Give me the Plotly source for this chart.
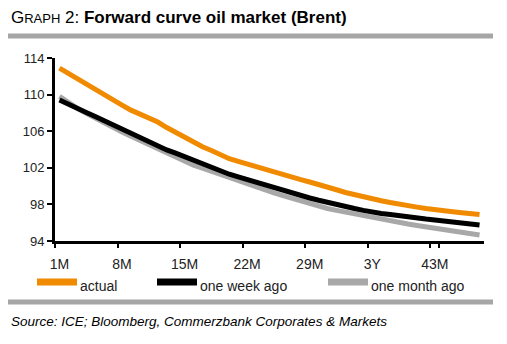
import plotly.graph_objects as go

# Contract months along the forward curve (36 months is shown as "3Y")
months = [f"{m}M" if m != 36 else "3Y" for m in range(1, 49)]
tick_labels = ["1M", "8M", "15M", "22M", "29M", "3Y", "43M"]

# Brent forward curve, USD per barrel
actual = [112.9, 112.3, 111.7, 111.1, 110.6, 110.0, 109.4, 108.85, 108.3, 107.85,
          107.4, 107.0, 106.4, 105.85, 105.3, 104.8, 104.3, 103.9, 103.4, 103.0,
          102.7, 102.4, 102.1, 101.8, 101.5, 101.2, 100.9, 100.7, 100.45, 100.2,
          99.95, 99.6, 99.3, 99.05, 98.85, 98.6, 98.4, 98.2, 98.0, 97.85,
          97.7, 97.55, 97.4, 97.3, 97.2, 97.1, 97.0, 96.9]
one_week_ago = [109.4, 108.9, 108.45, 108.05, 107.6, 107.15, 106.7, 106.3, 105.8, 105.3,
                104.8, 104.35, 103.95, 103.6, 103.2, 102.85, 102.5, 102.1, 101.7, 101.3,
                101.0, 100.7, 100.4, 100.1, 99.8, 99.5, 99.2, 98.95, 98.7, 98.45,
                98.2, 97.95, 97.75, 97.55, 97.35, 97.15, 97.0, 96.9, 96.75, 96.65,
                96.5, 96.4, 96.3, 96.2, 96.05, 95.95, 95.85, 95.75]
one_month_ago = [109.8, 109.1, 108.5, 107.95, 107.4, 106.9, 106.4, 105.9, 105.45, 105.0,
                 104.55, 104.1, 103.6, 103.15, 102.7, 102.3, 101.95, 101.6, 101.25, 100.95,
                 100.6, 100.25, 99.9, 99.55, 99.25, 98.95, 98.65, 98.35, 98.05, 97.8,
                 97.55, 97.35, 97.15, 96.95, 96.75, 96.55, 96.35, 96.2, 96.0, 95.85,
                 95.7, 95.55, 95.4, 95.25, 95.1, 94.95, 94.8, 94.65]

series_names = ["actual", "one week ago", "one month ago"]
series_colors = ["#F08A00", "#000000", "#A8A8A8"]
series_values = [actual, one_week_ago, one_month_ago]

W, H = 507, 344
FONT = "Liberation Sans, Arial, sans-serif"
PW, PH = 429, 183  # plot area size in pixels


def px_x(x):
    return (x - 55) / PW


def px_y(y):
    return (241 - y) / PH


fig = go.Figure()
# draw the oldest curve first so the current one sits on top
for name, color, vals in reversed(list(zip(series_names, series_colors, series_values))):
    fig.add_trace(go.Scatter(
        x=months, y=vals, mode="lines", name=name,
        line=dict(color=color, width=5, shape="linear"),
        showlegend=False, hoverinfo="x+y+name",
    ))

fig.update_layout(
    width=W, height=H,
    margin=dict(l=55, r=23, t=58, b=103),
    paper_bgcolor="white", plot_bgcolor="white",
    font=dict(family=FONT, size=13, color="#222222"),
    xaxis=dict(
        type="category", range=[-0.5, 47.5],
        tickmode="array", tickvals=tick_labels, ticktext=tick_labels, tickangle=0,
        tickson="boundaries", ticks="outside", ticklen=4, tickwidth=2, tickcolor="black",
        ticklabelstandoff=8,
        showline=True, linecolor="black", linewidth=3,
        showgrid=False, zeroline=False,
        tickfont=dict(size=14, color="#222222"),
    ),
    yaxis=dict(
        range=[94, 114], tickmode="array", tickvals=[94, 98, 102, 106, 110, 114],
        ticks="outside", ticklen=5, tickwidth=2, tickcolor="black",
        showline=True, linecolor="black", linewidth=3,
        showgrid=False, zeroline=False,
        tickfont=dict(size=13, color="#222222"),
    ),
)

# Header, rules and source note
fig.add_annotation(
    xref="paper", yref="paper", x=px_x(9), y=px_y(18),
    xanchor="left", yanchor="middle", showarrow=False,
    text=("<span style='font-size:17px'>G</span><span style='font-size:13px'>RAPH</span>"
          "<span style='font-size:17px'> 2: <b>Forward curve oil market (Brent)</b></span>"),
    font=dict(family=FONT, color="black"),
)
for y_px in (36, 302):
    fig.add_shape(type="line", xref="paper", yref="paper",
                  x0=px_x(8), x1=px_x(493), y0=px_y(y_px), y1=px_y(y_px),
                  line=dict(color="#A6A6A6", width=5))
fig.add_annotation(
    xref="paper", yref="paper", x=px_x(9), y=px_y(321),
    xanchor="left", yanchor="middle", showarrow=False,
    text="<i>Source: ICE; Bloomberg, Commerzbank Corporates &amp; Markets</i>",
    font=dict(family=FONT, size=13.5, color="black"),
)

# Legend row
legend_x = [37, 157, 328]
for name, color, x0 in zip(series_names, series_colors, legend_x):
    fig.add_shape(type="line", xref="paper", yref="paper",
                  x0=px_x(x0), x1=px_x(x0 + 40), y0=px_y(282), y1=px_y(282),
                  line=dict(color=color, width=7))
    fig.add_annotation(
        xref="paper", yref="paper", x=px_x(x0 + 41), y=px_y(286),
        xanchor="left", yanchor="middle", showarrow=False, text=name,
        font=dict(family=FONT, size=14, color="#222222"),
    )

fig.write_html("out.html")
